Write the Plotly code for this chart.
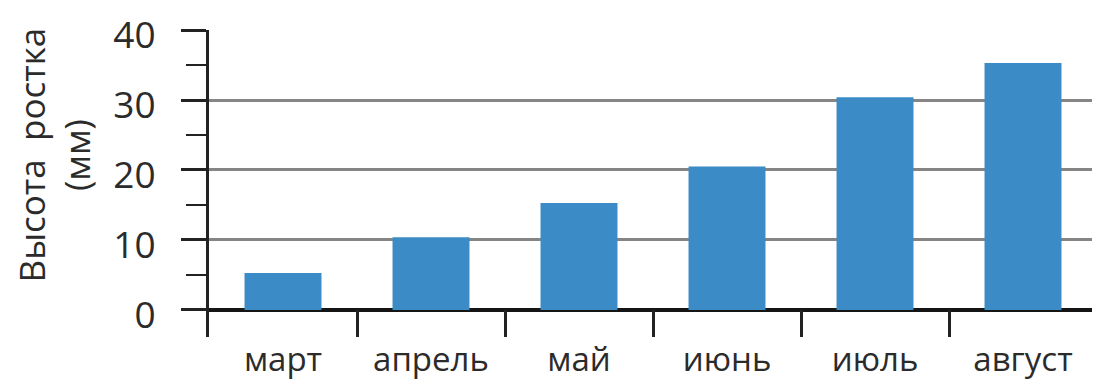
import plotly.graph_objects as go

months = ["март", "апрель", "май", "июнь", "июль", "август"]
heights_mm = [5.3, 10.4, 15.3, 20.5, 30.4, 35.3]
y_tick_values = [0, 10, 20, 30, 40]
y_title = "Высота  ростка<br>(мм)"

TEXT = "#2b2b2b"
AXIS = "#222222"
BAR = "#3b8bc6"
GRID = "#858585"

fig = go.Figure(
    go.Bar(
        x=months,
        y=heights_mm,
        width=0.52,
        marker=dict(color=BAR, line=dict(width=0)),
        hoverinfo="skip",
    )
)

# page body has an 8px default margin, so the figure is sized/offset to compensate
fig.update_layout(
    width=1092,
    height=376,
    margin=dict(l=201, r=3, t=22, b=47, autoexpand=False),
    paper_bgcolor="white",
    plot_bgcolor="white",
    showlegend=False,
    font=dict(family="Open Sans", color=TEXT),
    bargap=0.48,
)

fig.update_xaxes(
    type="category",
    range=[-0.5, 5.5],
    automargin=False,
    tickson="boundaries",
    ticks="inside",
    ticklen=27,
    tickwidth=3,
    tickcolor=AXIS,
    showline=False,
    showgrid=False,
    zeroline=False,
    tickfont=dict(size=33, color=TEXT),
    ticklabelstandoff=0,
    ticklabeloverflow="allow",
)

fig.update_yaxes(
    range=[-3.86, 40],
    automargin=False,
    tickmode="array",
    tickvals=y_tick_values,
    ticktext=[str(v) for v in y_tick_values],
    ticks="outside",
    ticklen=25,
    tickwidth=3,
    tickcolor=AXIS,
    showline=True,
    linecolor=AXIS,
    linewidth=3,
    showgrid=True,
    gridcolor=GRID,
    gridwidth=2.5,
    zeroline=True,
    zerolinecolor="#151515",
    zerolinewidth=4,
    tickfont=dict(size=37, color=TEXT),
    ticklabelstandoff=18,
    ticklabelshift=5,
    ticklabeloverflow="allow",
    minor=dict(ticks="outside", ticklen=20, tickwidth=1.5, tickcolor=AXIS, dtick=5, tick0=0, showgrid=False),
)

fig.add_annotation(
    text=y_title,
    xref="paper",
    yref="paper",
    x=-0.174,
    y=0.593,
    xanchor="center",
    yanchor="middle",
    textangle=-90,
    showarrow=False,
    font=dict(size=35, color=TEXT, family="Open Sans"),
)

fig.write_html("out.html")
